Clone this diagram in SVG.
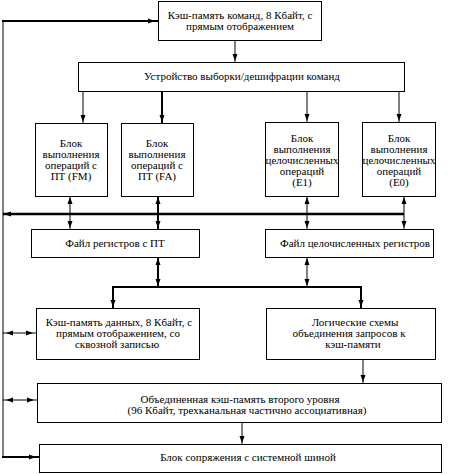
<svg xmlns="http://www.w3.org/2000/svg" width="459" height="474" viewBox="0 0 459 474">
<style>
.box{fill:#fff;stroke:#000;stroke-width:1}
text{font-family:"Liberation Serif","Times New Roman",serif;font-size:11px;fill:#000;text-anchor:middle}
.c{fill:none;stroke:#000;stroke-width:1}
.t{fill:none;stroke:#000;stroke-width:2}
.b{fill:none;stroke:#000;stroke-width:2.5}
</style>
<defs>
<marker id="a" markerUnits="userSpaceOnUse" markerWidth="10" markerHeight="6" viewBox="0 0 10 6" refX="8" refY="3" orient="auto-start-reverse">
<path d="M0,0.5 L7,3 L0,5.5 z" fill="#000"/>
</marker>
<marker id="a2" markerUnits="userSpaceOnUse" markerWidth="12" markerHeight="6" viewBox="0 0 12 6" refX="10" refY="3" orient="auto-start-reverse">
<path d="M0,0.5 L7,3 L0,5.5 z" fill="#000"/>
</marker>
</defs>
<g id="connectors">
<line class="c" x1="3" y1="20" x2="3" y2="458"/>
<line class="t" x1="2" y1="21" x2="158" y2="21" marker-end="url(#a2)"/>
<line class="t" x1="2" y1="457" x2="39" y2="457" marker-end="url(#a2)"/>
<line class="c" x1="3" y1="333" x2="36" y2="333" marker-start="url(#a2)" marker-end="url(#a2)"/>
<line class="c" x1="3" y1="400" x2="37" y2="400" marker-start="url(#a2)" marker-end="url(#a2)"/>
<line class="c" x1="235" y1="40" x2="235" y2="62" marker-end="url(#a)"/>
<line class="c" x1="83" y1="91" x2="83" y2="123" marker-end="url(#a)"/>
<line class="t" x1="162" y1="91" x2="162" y2="123" marker-end="url(#a)"/>
<line class="c" x1="307" y1="91" x2="307" y2="122" marker-end="url(#a)"/>
<line class="c" x1="399" y1="91" x2="399" y2="122" marker-end="url(#a)"/>
<line class="b" x1="3" y1="214" x2="404" y2="214" marker-start="url(#a)"/>
<line class="c" x1="70" y1="196" x2="70" y2="229" marker-start="url(#a)" marker-end="url(#a)"/>
<line class="t" x1="158" y1="196" x2="158" y2="229" marker-start="url(#a)" marker-end="url(#a)"/>
<line class="c" x1="307" y1="196" x2="307" y2="229" marker-start="url(#a)" marker-end="url(#a)"/>
<line class="c" x1="404" y1="196" x2="404" y2="229" marker-start="url(#a)" marker-end="url(#a)"/>
<line class="t" x1="158" y1="257" x2="158" y2="287" marker-start="url(#a)" marker-end="url(#a)"/>
<line class="c" x1="307" y1="257" x2="307" y2="287" marker-start="url(#a)" marker-end="url(#a)"/>
<polyline class="t" points="113,308 113,287 361,287 361,308"/>
<line class="t" x1="113" y1="287" x2="113" y2="308" marker-end="url(#a)"/>
<line class="t" x1="361" y1="287" x2="361" y2="308" marker-end="url(#a)"/>
<line class="c" x1="363" y1="359" x2="363" y2="383" marker-end="url(#a)"/>
<line class="c" x1="242" y1="422" x2="242" y2="444" marker-end="url(#a)"/>
</g>
<g id="icache">
<rect class="box" x="158.5" y="1.5" width="163" height="39"/>
<text x="240" y="19">Кэш-память команд, 8 Кбайт, с</text>
<text x="240" y="30">прямым отображением</text>
</g>
<g id="fetch">
<rect class="box" x="78.5" y="62.5" width="326" height="29"/>
<text x="242" y="80">Устройство выборки/дешифрации команд</text>
</g>
<g id="fm">
<rect class="box" x="35.5" y="123.5" width="72" height="73"/>
<text x="71" y="147">Блок</text>
<text x="71" y="158">выполнения</text>
<text x="71" y="169">операций с</text>
<text x="71" y="180">ПТ (FM)</text>
</g>
<g id="fa">
<rect class="box" x="121.5" y="123.5" width="72" height="73"/>
<text x="157" y="147">Блок</text>
<text x="157" y="158">выполнения</text>
<text x="157" y="169">операций с</text>
<text x="157" y="180">ПТ (FA)</text>
</g>
<g id="e1">
<rect class="box" x="265.5" y="122.5" width="73" height="74"/>
<text x="302" y="142">Блок</text>
<text x="302" y="153">выполнения</text>
<text x="302" y="164">целочисленных</text>
<text x="302" y="175">операций</text>
<text x="302" y="186">(E1)</text>
</g>
<g id="e0">
<rect class="box" x="362.5" y="122.5" width="73" height="74"/>
<text x="399" y="142">Блок</text>
<text x="399" y="153">выполнения</text>
<text x="399" y="164">целочисленных</text>
<text x="399" y="175">операций</text>
<text x="399" y="186">(E0)</text>
</g>
<g id="fpregs">
<rect class="box" x="31.5" y="229.5" width="168" height="28"/>
<text x="115" y="247">Файл регистров с ПТ</text>
</g>
<g id="intregs">
<rect class="box" x="265.5" y="229.5" width="168" height="28"/>
<text x="355" y="247">Файл целочисленных регистров</text>
</g>
<g id="dcache">
<rect class="box" x="36.5" y="308.5" width="163" height="51"/>
<text x="119" y="326">Кэш-память данных, 8 Кбайт, с</text>
<text x="118" y="337">прямым отображением, со</text>
<text x="117" y="348">сквозной записью</text>
</g>
<g id="logic">
<rect class="box" x="266.5" y="308.5" width="169" height="51"/>
<text x="355" y="326">Логические схемы</text>
<text x="349" y="337">объединения запросов к</text>
<text x="353" y="348">кэш-памяти</text>
</g>
<g id="l2">
<rect class="box" x="37.5" y="383.5" width="404" height="39"/>
<text x="240" y="403">Объединенная кэш-память второго уровня</text>
<text x="247" y="414">(96 Кбайт, трехканальная частично ассоциативная)</text>
</g>
<g id="bus">
<rect class="box" x="39.5" y="444.5" width="402" height="28"/>
<text x="248" y="461">Блок сопряжения с системной шиной</text>
</g>
</svg>
